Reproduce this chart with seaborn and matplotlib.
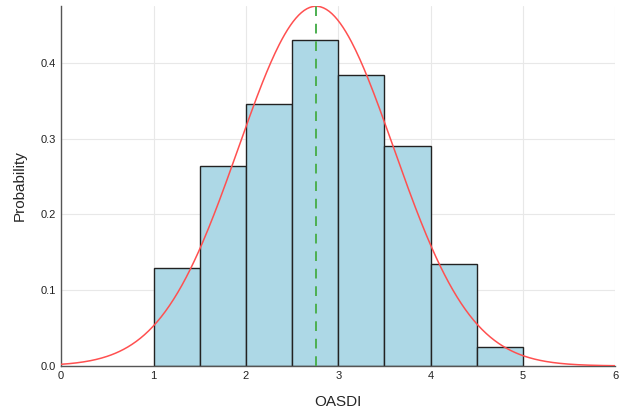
import numpy as np
import pandas as pd
import matplotlib
matplotlib.use("Agg")
import matplotlib.pyplot as plt
import seaborn as sns

# Data
bin_edges = [1.0, 1.5, 2.0, 2.5, 3.0, 3.5, 4.0, 4.5, 5.0]
probabilities = [0.129, 0.264, 0.346, 0.431, 0.384, 0.290, 0.134, 0.025]
fit_mean = 2.76
fit_std = 0.84
x_ticks = [0, 1, 2, 3, 4, 5, 6]
y_ticks = [0.0, 0.1, 0.2, 0.3, 0.4]

sns.set_theme(style="white")
plt.rcParams['font.family'] = ['Liberation Sans', 'DejaVu Sans']

fig = plt.figure(figsize=(6.24, 4.13), dpi=100)
ax = fig.add_axes([0.098, 0.114, 0.888, 0.871])

centers = [(a + b) / 2 for a, b in zip(bin_edges[:-1], bin_edges[1:])]
df = pd.DataFrame({"OASDI": centers, "p": probabilities})
sns.histplot(data=df, x="OASDI", weights="p", bins=bin_edges, stat="count",
             color="#ADD8E6", edgecolor="#222222", linewidth=1.0, alpha=1.0, ax=ax, zorder=2)

xs = np.linspace(0, 6, 400)
pdf = np.exp(-0.5 * ((xs - fit_mean) / fit_std) ** 2) / (fit_std * np.sqrt(2 * np.pi))
sns.lineplot(x=xs, y=pdf, color="#FF5050", linewidth=1.1, ax=ax, zorder=3)
ax.axvline(fit_mean, color="#4CAF50", linestyle=(0, (5, 4)), linewidth=1.4, zorder=4)

ax.set_xlim(0, 6)
ax.set_ylim(0, 0.475)
ax.set_xticks(x_ticks)
ax.set_yticks(y_ticks)
ax.set_xticklabels([str(t) for t in x_ticks], fontsize=8)
ax.set_yticklabels([f"{t:.1f}" for t in y_ticks], fontsize=8)
ax.grid(True, color="#E8E8E8", linewidth=0.8, zorder=0)
ax.set_axisbelow(True)
ax.set_xlabel("OASDI", fontsize=11, labelpad=10)
ax.set_ylabel("Probability", fontsize=11, labelpad=10)
for s in ["top", "right"]:
    ax.spines[s].set_visible(False)
for s in ["left", "bottom"]:
    ax.spines[s].set_color("#555555")
    ax.spines[s].set_linewidth(1.0)
ax.tick_params(axis="both", length=2, pad=2, colors="#222222")

fig.savefig("out.png", dpi=100)
